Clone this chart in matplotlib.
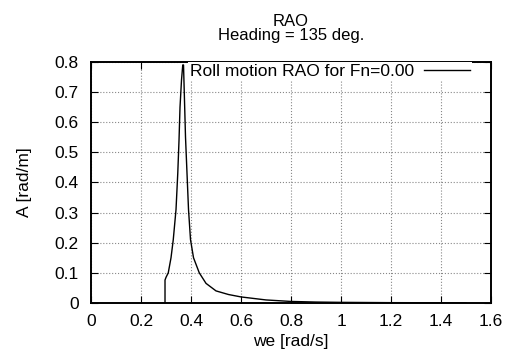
import matplotlib
matplotlib.use("Agg")
import matplotlib.pyplot as plt

plt.rcParams['font.family'] = ['Liberation Sans', 'DejaVu Sans']

# roll RAO
we = [0.296, 0.296, 0.30, 0.309, 0.32, 0.329, 0.34, 0.347, 0.352, 0.356, 0.362,
      0.367, 0.370, 0.373, 0.378, 0.384, 0.39, 0.398, 0.41, 0.433, 0.46, 0.50,
      0.55, 0.60, 0.70, 0.80, 0.90, 1.0, 1.2, 1.5]
A = [0.0, 0.076, 0.085, 0.10, 0.15, 0.21, 0.31, 0.43, 0.54, 0.65, 0.74,
     0.79, 0.79, 0.70, 0.55, 0.43, 0.31, 0.21, 0.15, 0.10, 0.065, 0.040,
     0.028, 0.020, 0.010, 0.005, 0.003, 0.002, 0.001, 0.0005]

xticks = [0, 0.2, 0.4, 0.6, 0.8, 1, 1.2, 1.4, 1.6]
xticklabels = ['0', '0.2', '0.4', '0.6', '0.8', '1', '1.2', '1.4', '1.6']
yticks = [0, 0.1, 0.2, 0.3, 0.4, 0.5, 0.6, 0.7, 0.8]
yticklabels = ['0', '0.1', '0.2', '0.3', '0.4', '0.5', '0.6', '0.7', '0.8']

fs = 12.5

fig = plt.figure(figsize=(5.07, 3.56), dpi=100)
ax = fig.add_axes([0.1795, 0.149, 0.789, 0.677])

ax.plot(we, A, color='black', linewidth=1.0, label='Roll motion RAO for Fn=0.00')

ax.set_xlim(0, 1.6)
ax.set_ylim(0, 0.8)
ax.set_xticks(xticks)
ax.set_xticklabels(xticklabels)
ax.set_yticks(yticks)
ax.set_yticklabels(yticklabels)
ax.tick_params(direction='in', top=True, right=True, length=5, width=0.8,
               labelsize=fs)
ax.tick_params(axis='y', pad=9)
ax.tick_params(axis='x', pad=8)
ax.grid(True, linestyle=':', color='#888888', linewidth=0.8)
for s in ax.spines.values():
    s.set_linewidth(1.4)

ax.set_xlabel('we [rad/s]', fontsize=fs)
ax.xaxis.set_label_coords(0.5, -0.127)
ax.set_ylabel('A [rad/m]', fontsize=fs)
ax.yaxis.set_label_coords(-0.148, 0.5)

# two-line title like gnuplot
fig.text(0.574, 0.878, 'RAO\nHeading = 135 deg.', ha='center', va='bottom',
         multialignment='center', fontsize=12, linespacing=0.92)

leg = ax.legend(loc='upper right', bbox_to_anchor=(0.953, 1.0), markerfirst=False,
                handlelength=2.65, handletextpad=0.6, fontsize=fs, fancybox=False,
                framealpha=1, borderaxespad=0, borderpad=0.1)
leg.get_frame().set_edgecolor('white')
leg.get_frame().set_linewidth(0)

fig.savefig('out.png', dpi=100)
